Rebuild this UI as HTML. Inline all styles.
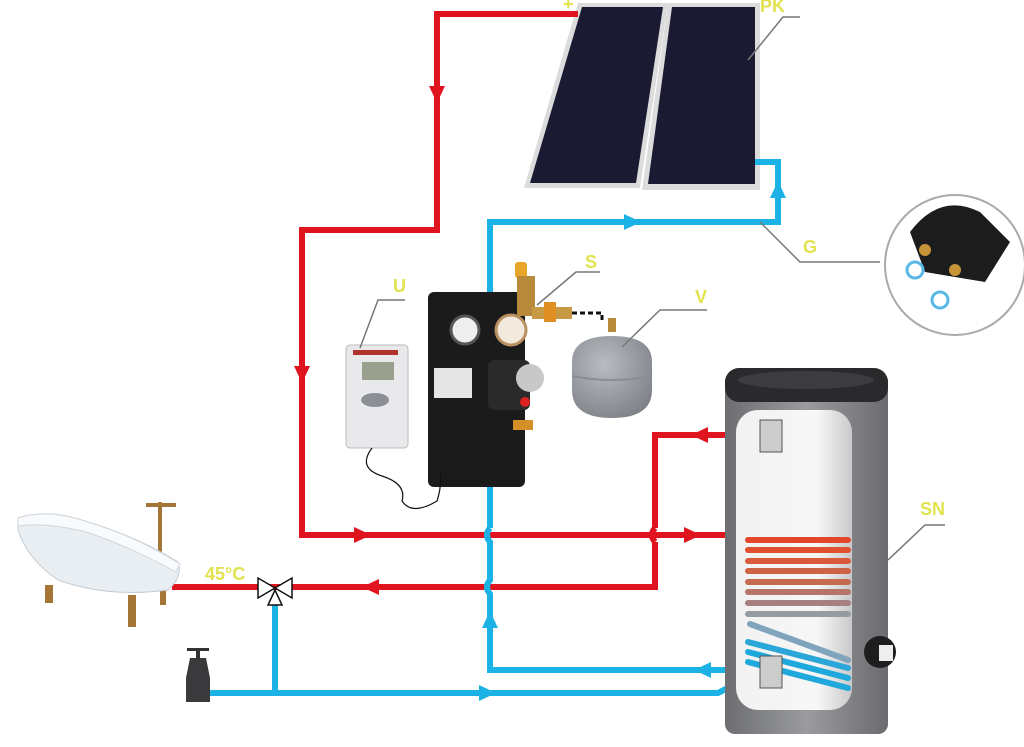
<!DOCTYPE html>
<html><head><meta charset="utf-8"><style>
html,body{margin:0;padding:0;background:#fff;}
svg{display:block;}
text{font-family:"Liberation Sans",sans-serif;fill:#e2e24e;font-size:18px;font-weight:bold;}
</style></head><body>
<svg width="1024" height="747" viewBox="0 0 1024 747" xmlns="http://www.w3.org/2000/svg">
<defs>
<linearGradient id="tank" x1="0" x2="1"><stop offset="0" stop-color="#6d6e72"/><stop offset="0.5" stop-color="#9a9b9f"/><stop offset="1" stop-color="#6a6b6f"/></linearGradient>
<linearGradient id="win" x1="0" x2="1"><stop offset="0" stop-color="#f2f2f2"/><stop offset="0.7" stop-color="#f7f7f7"/><stop offset="1" stop-color="#c9c9c9"/></linearGradient>
<radialGradient id="ves" cx="0.4" cy="0.35" r="0.75"><stop offset="0" stop-color="#b9bdc2"/><stop offset="1" stop-color="#7c8086"/></radialGradient>
</defs>

<!-- Collectors -->
<polygon points="578,3 668,3 640,188 524,188" fill="#dcdcdc"/>
<polygon points="582,7 663,7 636,183 530,183" fill="#1b1a33"/>
<polygon points="668,3 760,3 760,190 642,190" fill="#dcdcdc"/>
<polygon points="672,7 755,7 755,184 648,184" fill="#1b1a33"/>

<g fill="none" stroke="#e0141e" stroke-width="6">
<polyline points="578,14 437,14 437,230 302,230 302,535 735,535"/>
<polyline points="770,435 655,435 655,528"/>
<path d="M655,528 q-6,7 0,14"/>
<polyline points="655,542 655,587 172,587"/>
</g>
<g fill="#e0141e">
<polygon points="429,86 445,86 437,103"/>
<polygon points="294,366 310,366 302,383"/>
<polygon points="354,527 354,543 371,535"/>
<polygon points="684,527 684,543 701,535"/>
<polygon points="708,427 708,443 691,435"/>
<polygon points="379,579 379,595 362,587"/>
</g>
<polygon points="765,435 790,412 804,412 778,440 770,440" fill="#b01822"/>

<g fill="none" stroke="#1cb2e6" stroke-width="6">
<polyline points="755,162 778,162 778,222 490,222 490,528"/>
<path d="M490,528 q-6,7 0,14 L490,580 q-6,7 0,14 L490,670 740,670"/>
<polyline points="190,693 718,693 765,668"/>
<polyline points="275,693 275,600"/>
</g>
<g fill="#1cb2e6">
<polygon points="770,198 786,198 778,181"/>
<polygon points="624,214 624,230 641,222"/>
<polygon points="482,628 498,628 490,611"/>
<polygon points="711,662 711,678 694,670"/>
<polygon points="479,685 479,701 496,693"/>
</g>

<g fill="#fff" stroke="#111" stroke-width="1.5">
<polygon points="258,578 258,598 275,588"/>
<polygon points="292,578 292,598 275,588"/>
<polygon points="268,605 282,605 275,590"/>
</g>
<text x="205" y="580">45°C</text>

<rect x="187" y="648" width="22" height="3" fill="#333"/>
<rect x="196" y="650" width="4" height="8" fill="#333"/>
<path d="M190,658 h16 l4,20 v24 h-24 v-24 z" fill="#3a3a3c"/>

<!-- Bathtub -->
<g fill="#a47637">
<rect x="45" y="585" width="8" height="18"/><rect x="128" y="595" width="8" height="32"/><rect x="160" y="585" width="6" height="20"/>
<rect x="158" y="502" width="4" height="65"/><rect x="146" y="503" width="30" height="4"/>
</g>
<path d="M18,518 q30,-10 70,4 q50,15 90,40 q5,15 -10,28 q-60,8 -110,-10 q-30,-20 -40,-50 z" fill="#e8eef2" stroke="#c5ccd2"/>
<path d="M18,518 q30,-10 70,4 q50,15 92,42 l-4,8 q-45,-25 -90,-40 q-40,-10 -68,-6 z" fill="#f8fafc" stroke="#d0d6dc"/>

<!-- Pump station -->
<rect x="428" y="292" width="97" height="195" rx="6" fill="#1b1b1b"/>
<circle cx="465" cy="330" r="14" fill="#eee" stroke="#555" stroke-width="3"/>
<circle cx="511" cy="330" r="15" fill="#f3e8dc" stroke="#b99060" stroke-width="3"/>
<rect x="434" y="368" width="38" height="30" fill="#e5e5e5"/>
<rect x="488" y="360" width="42" height="50" rx="6" fill="#2a2a2a"/>
<circle cx="530" cy="378" r="14" fill="#c8c8c8"/>
<circle cx="525" cy="402" r="5" fill="#d22"/>
<rect x="513" y="420" width="20" height="10" fill="#d58f28"/>
<rect x="515" y="262" width="12" height="16" rx="3" fill="#e7a62a"/>
<rect x="517" y="276" width="18" height="40" fill="#b88a3b"/>
<rect x="532" y="307" width="40" height="12" fill="#c99a45"/>
<rect x="544" y="302" width="12" height="20" fill="#e08f25"/>
<path d="M572,313 h30 v8" fill="none" stroke="#111" stroke-width="3" stroke-dasharray="5,3"/>
<!-- Expansion vessel -->
<rect x="608" y="318" width="8" height="14" fill="#b88a3b"/>
<path d="M572,362 q0,-26 40,-26 q40,0 40,26 v28 q0,28 -40,28 q-40,0 -40,-28 z" fill="url(#ves)"/>
<path d="M572,376 q40,8 80,0" fill="none" stroke="#8a8e93" stroke-width="2"/>

<!-- Controller -->
<rect x="346" y="345" width="62" height="103" rx="4" fill="#e9e9ec" stroke="#bbb"/>
<rect x="353" y="350" width="45" height="5" fill="#b0342c"/>
<rect x="362" y="362" width="32" height="18" fill="#9aa08e"/>
<ellipse cx="375" cy="400" rx="14" ry="7" fill="#8b9096"/>
<path d="M372,448 q-15,20 10,28 q25,8 20,25 q10,15 35,0 q5,-15 3,-30" fill="none" stroke="#111" stroke-width="1.2"/>

<!-- Tank -->
<rect x="725" y="372" width="163" height="362" rx="10" fill="url(#tank)"/>
<rect x="725" y="368" width="163" height="34" rx="14" fill="#2a2a2c"/>
<ellipse cx="806" cy="380" rx="68" ry="9" fill="#3c3c40"/>
<rect x="736" y="410" width="116" height="300" rx="22" fill="url(#win)"/>
<g stroke-width="6" stroke-linecap="round" fill="none">
<line x1="748" y1="540" x2="848" y2="540" stroke="#e4462c"/>
<line x1="748" y1="550" x2="848" y2="550" stroke="#e0502f"/>
<line x1="748" y1="561" x2="848" y2="561" stroke="#d85a3a"/>
<line x1="748" y1="571" x2="848" y2="571" stroke="#ce6244"/>
<line x1="748" y1="582" x2="848" y2="582" stroke="#c46a50"/>
<line x1="748" y1="592" x2="848" y2="592" stroke="#b7746a"/>
<line x1="748" y1="603" x2="848" y2="603" stroke="#a68080"/>
<line x1="748" y1="614" x2="848" y2="614" stroke="#959ba0"/>
<line x1="750" y1="624" x2="848" y2="660" stroke="#7fa4bb"/>
<line x1="748" y1="642" x2="848" y2="668" stroke="#2aa6d8"/>
<line x1="748" y1="652" x2="848" y2="678" stroke="#1fa8dc"/>
<line x1="748" y1="662" x2="848" y2="688" stroke="#1fa8dc"/>
</g>
<rect x="760" y="420" width="22" height="32" fill="#ccc" stroke="#555"/>
<rect x="760" y="656" width="22" height="32" fill="#ccc" stroke="#555"/>
<circle cx="880" cy="652" r="16" fill="#1e1e1e"/>
<rect x="879" y="645" width="14" height="16" fill="#eee"/>

<!-- Inset -->
<circle cx="955" cy="265" r="70" fill="#fff" stroke="#aaa" stroke-width="2"/>
<path d="M910,232 q30,-40 70,-20 l30,30 -25,40 -60,-10 z" fill="#1c1c1c"/>
<circle cx="915" cy="270" r="8" fill="none" stroke="#59b8e6" stroke-width="3"/>
<circle cx="940" cy="300" r="8" fill="none" stroke="#59b8e6" stroke-width="3"/>
<circle cx="925" cy="250" r="6" fill="#c59438"/>
<circle cx="955" cy="270" r="6" fill="#c59438"/>

<g stroke="#777" stroke-width="1.5" fill="none">
<polyline points="748,60 783,17 800,17"/>
<polyline points="760,222 800,262 880,262"/>
<polyline points="537,305 576,272 600,272"/>
<polyline points="622,347 660,310 707,310"/>
<polyline points="360,348 378,300 405,300"/>
<polyline points="888,560 925,525 945,525"/>
</g>

<text x="760" y="12">PK</text>
<text x="563" y="10" font-size="13">+</text>
<text x="803" y="253">G</text>
<text x="585" y="268">S</text>
<text x="695" y="303">V</text>
<text x="393" y="292">U</text>
<text x="920" y="515">SN</text>
</svg>
</body></html>
